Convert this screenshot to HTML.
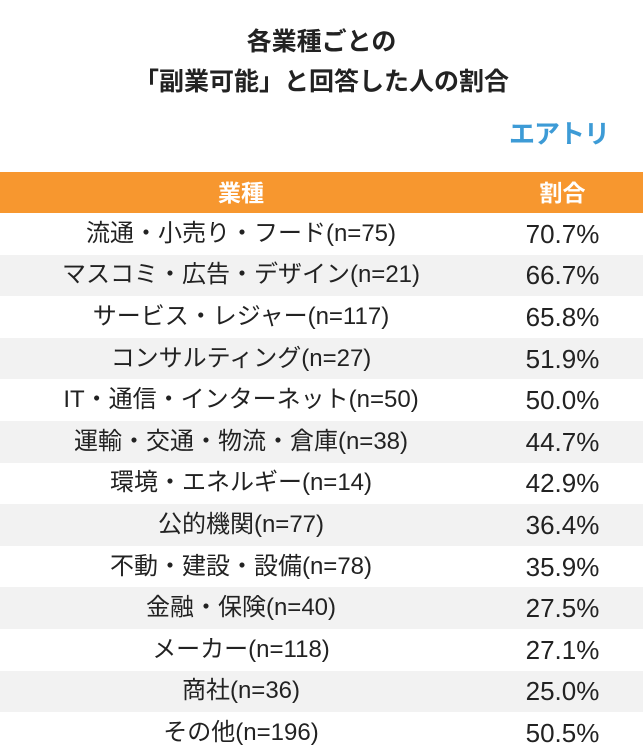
<!DOCTYPE html>
<html><head><meta charset="utf-8"><style>
body{margin:0;width:643px;height:754px;background:#fff;font-family:"Liberation Sans","Noto Sans CJK JP",sans-serif;overflow:hidden;position:relative;color:#222}
.t{position:absolute;left:0;width:643px;text-align:center;font-weight:bold;font-size:25px;line-height:30px}
.logo{position:absolute;left:509px;top:117px;font-size:26px;font-weight:bold;color:#3d9bd6;letter-spacing:-1px;line-height:34px}
.row{position:absolute;left:0;width:643px;height:41.6px;display:flex;align-items:center;font-size:24px;line-height:30px}
.c1{width:482px;text-align:center}.c2{width:161px;text-align:center;font-size:26px}
.hd{background:#f7972f;color:#fff;font-weight:bold;top:172px;height:41px;font-size:23px}
.hd .c2{font-size:23px}
.g{background:#f2f2f2}
</style></head><body>
<div class="t" style="top:27px">各業種ごとの</div>
<div class="t" style="top:67px">「副業可能」と回答した人の割合</div>
<div class="logo">エアトリ</div>
<div class="row hd"><div class="c1">業種</div><div class="c2">割合</div></div>
<div id="tb"></div>
<script>
const industries=["流通・小売り・フード(n=75)","マスコミ・広告・デザイン(n=21)","サービス・レジャー(n=117)","コンサルティング(n=27)","IT・通信・インターネット(n=50)","運輸・交通・物流・倉庫(n=38)","環境・エネルギー(n=14)","公的機関(n=77)","不動・建設・設備(n=78)","金融・保険(n=40)","メーカー(n=118)","商社(n=36)","その他(n=196)"];
const shares=["70.7%","66.7%","65.8%","51.9%","50.0%","44.7%","42.9%","36.4%","35.9%","27.5%","27.1%","25.0%","50.5%"];
const tb=document.getElementById('tb');
industries.forEach((n,i)=>{
const r=document.createElement('div');
r.className='row'+(i%2?' g':'');
r.style.top=(213+i*41.6)+'px';


const a=document.createElement('div');a.className='c1';a.textContent=n;


const b=document.createElement('div');b.className='c2';b.textContent=shares[i];


r.appendChild(a);r.appendChild(b);tb.appendChild(r);
});
</script>
</body></html>
